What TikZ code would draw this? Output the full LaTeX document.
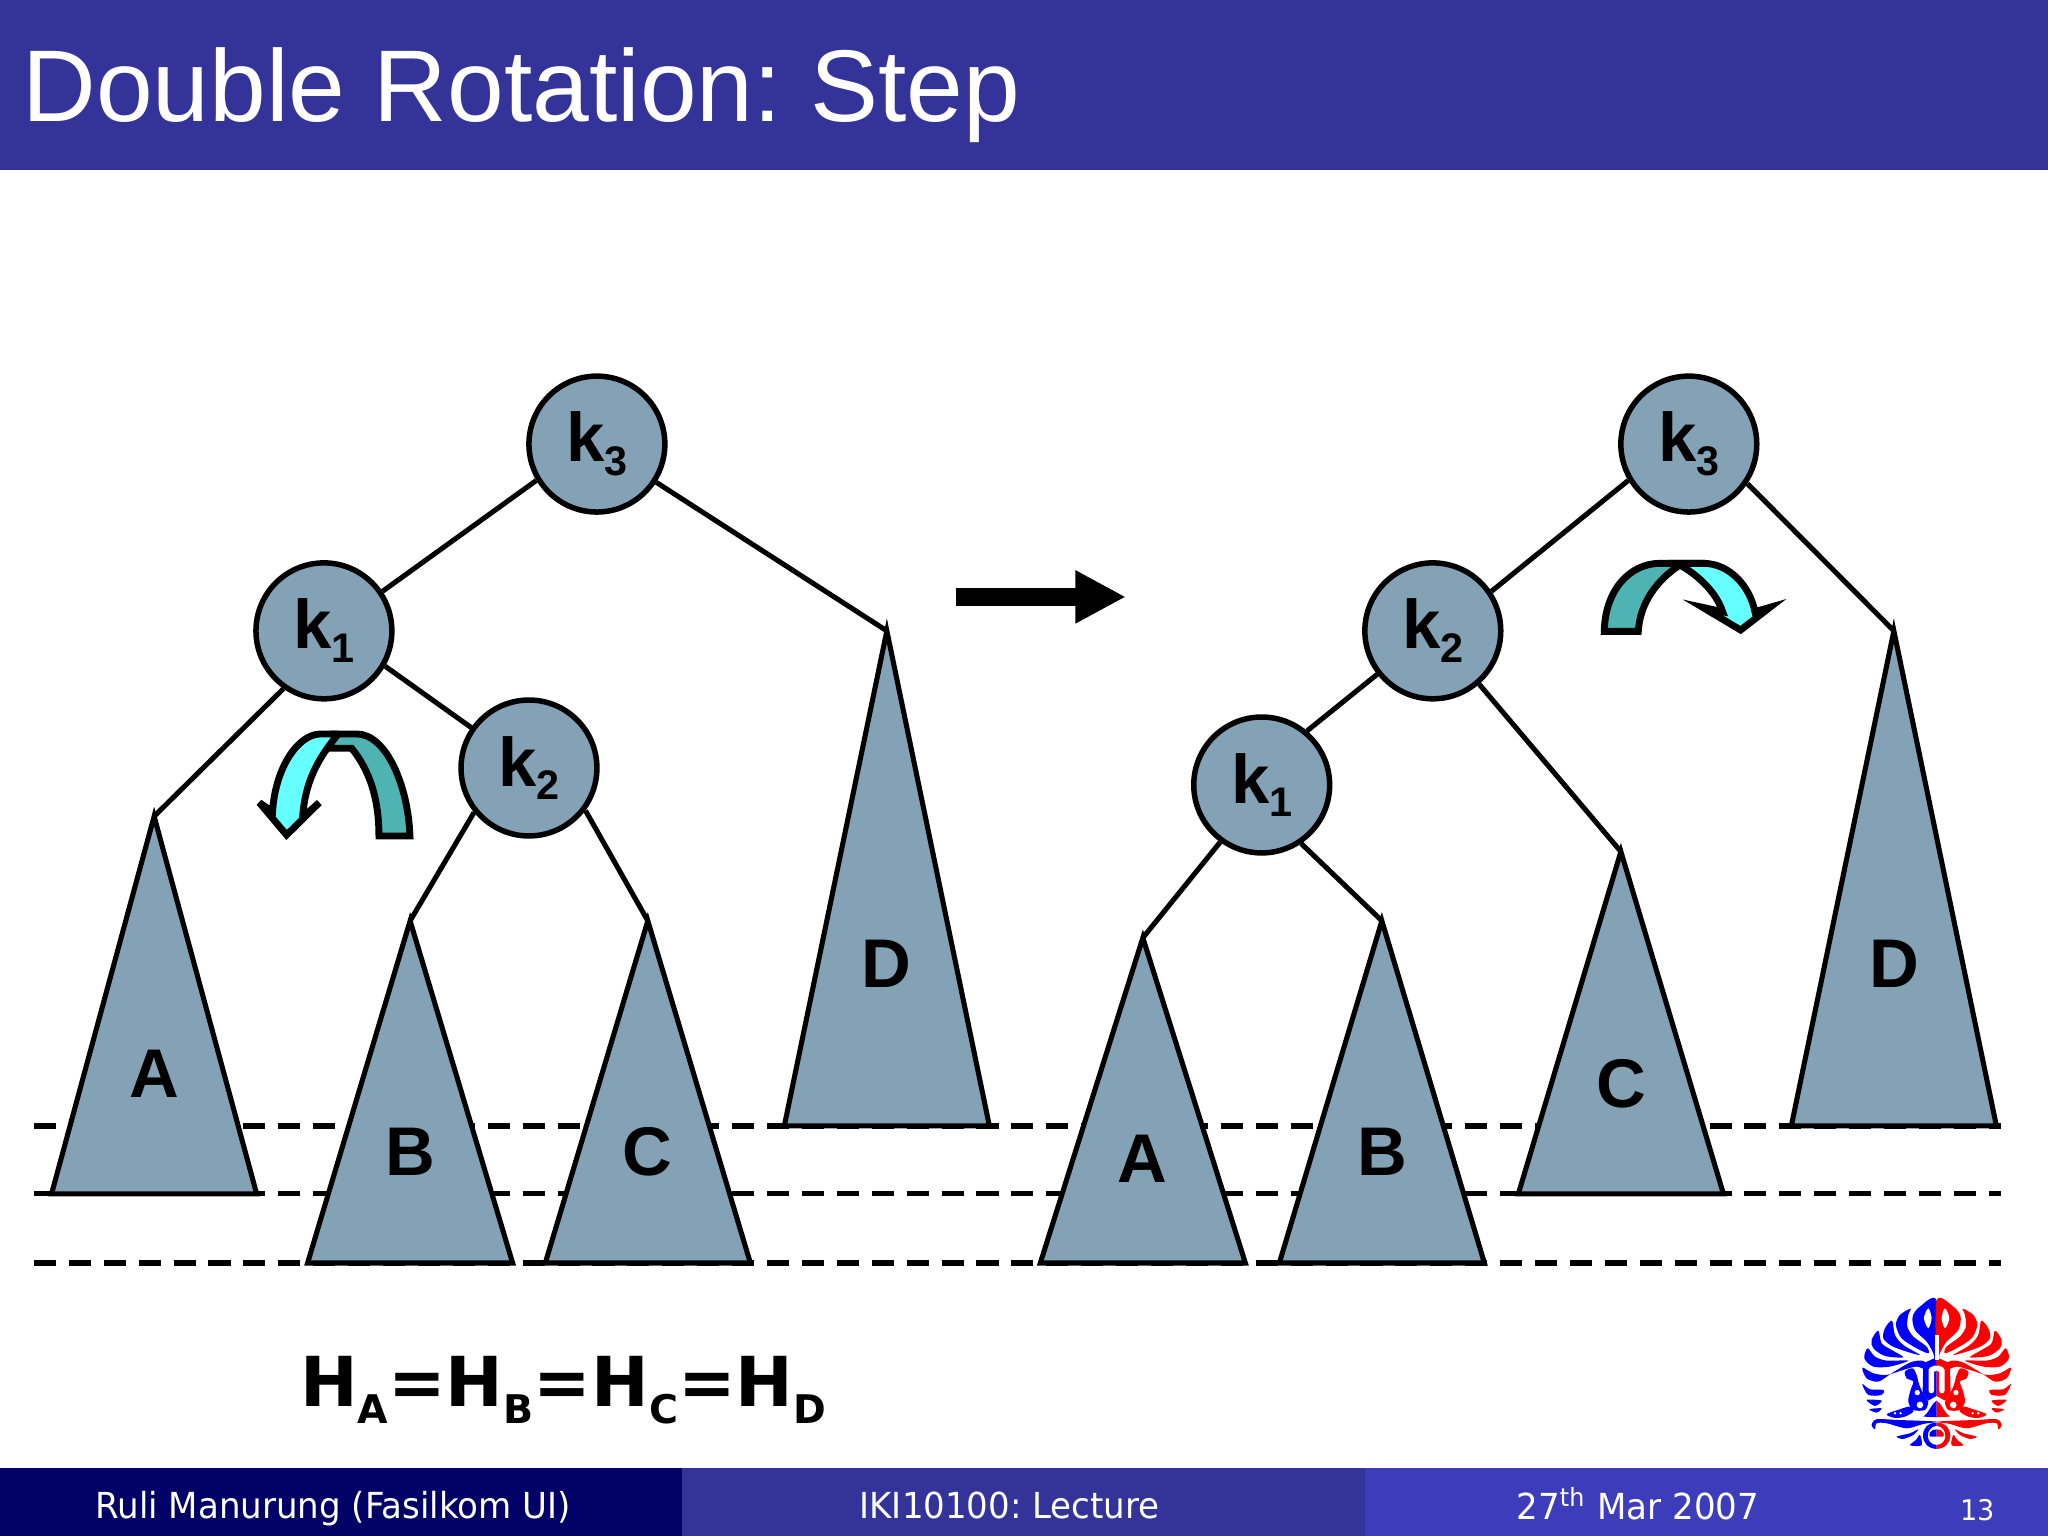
\documentclass[tikz,border=0pt]{standalone}
\usepackage{fontspec}
\usepackage{xcolor}
\usepackage{tikz}
\usetikzlibrary{arrows.meta,positioning}
\setmainfont{Liberation Sans}
\newfontfamily\footfont[FakeStretch=0.95]{DejaVu Sans}
\newfontfamily\eqfont{DejaVu Sans}
\definecolor{slidebar}{HTML}{333399}
\definecolor{footdark}{HTML}{000066}
\definecolor{footlight}{HTML}{3D3DBB}
\definecolor{treefill}{HTML}{84A2B5}
\definecolor{rotlight}{HTML}{66FFFF}
\definecolor{rotdark}{HTML}{4DB3B3}
\newcommand{\keysub}[1]{\raisebox{-3pt}{\fontsize{9}{9}\selectfont #1}}
\newcommand{\hsub}[1]{\raisebox{-3.6pt}{\fontsize{8.6}{8.6}\selectfont #1}}

\begin{document}
\frenchspacing
\begin{tikzpicture}[
    x=0.01cm, y=-0.01cm,
    keynode/.style={draw, circle, fill=treefill, line width=1.2pt,
                    minimum size=1.04cm, inner sep=0pt,
                    font=\fontsize{15}{15}\selectfont\bfseries},
    subtree/.style={draw, fill=treefill, line width=1.1pt, line join=miter},
    sublabel/.style={font=\fontsize{15}{15}\selectfont\bfseries},
    edge/.style={line width=1.1pt},
    level/.style={line width=1.15pt, dash pattern=on 4.8pt off 2.8pt},
    bigarrow/.style={line width=4pt, -{Triangle[length=11pt,width=10.8pt]}},
    rotband/.style={draw, line width=1.5pt, line join=miter},
    footbar/.style={fill=#1, draw=none},
    foottext/.style={text=white, font=\footfont\fontsize{7.8}{9}\selectfont},
    logoleaf/.style={fill=#1, draw=none}
  ]
  \useasboundingbox (0,0) rectangle (1568,1176);
  \fill[white] (0,0) rectangle (1568,1176);

  % header and footer
  \fill[slidebar] (0,0) rectangle (1568,130);
  \node[anchor=base west, inner sep=0pt, text=white,
        font=\fontsize{22.2}{22}\selectfont] (title) at (16.5,93) {Double Rotation: Step};
  \fill[footbar=footdark] (0,1124) rectangle (522,1176);
  \fill[footbar=slidebar] (522,1124) rectangle (1045,1176);
  \fill[footbar=footlight] (1045,1124) rectangle (1568,1176);
  \node[foottext] (author) at (255,1155) {Ruli Manurung (Fasilkom UI)};
  \node[foottext] (course) at (773,1153) {IKI10100: Lecture};
  \node[foottext] (date) at (1254,1151) {27\textsuperscript{th} Mar 2007};
  \node[foottext, font=\footfont\fontsize{6.2}{7}\selectfont] (page) at (1514,1156) {13};

  % height levels
  \foreach \ylev in {862,914,967} {
    \coordinate (levL\ylev) at (26,\ylev);
    \coordinate (levR\ylev) at (1532,\ylev);
    \draw[level] (levL\ylev) -- (levR\ylev);
  }

  % subtrees
  \foreach \name/\xtop/\ytop/\ybot/\lab/\ylab in {
      la/118/625/914/A/822, lb/314/705/967/B/882, lc/496/705/967/C/882, ld/679/483/862/D/738,
      ra/875/718/967/A/887, rb/1058/705/967/B/882, rc/1241/652/914/C/830, rd/1450/483/862/D/738} {
    \coordinate (\name) at (\xtop,\ytop);
    \draw[subtree] (\name) -- (\xtop-78.5,\ybot) -- (\xtop+78.5,\ybot) -- cycle;
    \node[sublabel] (label\name) at (\xtop,\ylab) {\lab};
  }

  % left tree
  \node[keynode] (lk3) at (457,340) {k\keysub{3}};
  \node[keynode] (lk1) at (248,483) {k\keysub{1}};
  \node[keynode] (lk2) at (405,588) {k\keysub{2}};
  \draw[edge] (lk3.211) -- (lk1.34);
  \draw[edge] (lk3) -- (ld);
  \draw[edge] (lk1.235) -- (la);
  \draw[edge] (lk1.330) -- (lk2.145);
  \draw[edge] (lk2.219) -- (lb);
  \draw[edge] (lk2.323) -- (lc);

  % right tree
  \node[keynode] (rk3) at (1293,340) {k\keysub{3}};
  \node[keynode] (rk2) at (1097,483) {k\keysub{2}};
  \node[keynode] (rk1) at (966,601) {k\keysub{1}};
  \draw[edge] (rk3.211) -- (rk2.34);
  \draw[edge] (rk3.326) -- (rd);
  \draw[edge] (rk2.218) -- (rk1.50);
  \draw[edge] (rk2.311) -- (rc);
  \draw[edge] (rk1.234) -- (ra);
  \draw[edge] (rk1.304) -- (rb);

  % step arrow
  \coordinate (stepfrom) at (732,457);
  \coordinate (stepto) at (862,457);
  \draw[bigarrow] (stepfrom) -- (stepto);

  % rotation on the left
  \begin{scope}[shift={(168.4,520.6)}, scale=0.2552]
    \draw[rotband, fill=rotdark] (477,468) -- (570,468) .. controls (565,320) and (500,162) .. (410,162)
      -- (340,162) -- (330,205) -- (395,205) .. controls (440,260) and (477,340) .. (477,468) -- cycle;
    \draw[rotband, fill=rotlight, miter limit=4] (355,162) -- (300,162) .. controls (230,165) and (165,270) .. (158,395)
      -- (118,368) -- (200,465) -- (298,368) -- (248,412) .. controls (255,310) and (290,240) .. (355,162);
  \end{scope}

  % rotation on the right
  \begin{scope}[shift={(1202,405.8)}, scale=0.2552]
    \draw[rotband, fill=rotdark] (103,304) -- (205,304) .. controls (210,220) and (260,150) .. (330,105)
      -- (345,100) -- (270,100) .. controls (180,100) and (105,180) .. (103,304) -- cycle;
    \draw[rotband, fill=rotlight, miter limit=10] (325,100) -- (400,100) .. controls (480,100) and (540,170) .. (555,245)
      -- (600,232) -- (512,300) -- (398,232) -- (458,245) .. controls (440,190) and (390,140) .. (335,108) -- cycle;
  \end{scope}

  % height equation
  \node[anchor=base west, inner sep=0pt, font=\eqfont\bfseries\fontsize{15}{15}\selectfont] (heights) at (229,1077)
    {H\hsub{A}=H\hsub{B}=H\hsub{C}=H\hsub{D}};

  % logo
  \begin{scope}[shift={(1393.4,972.3)}, scale=0.2552]
    \foreach \side/\hue in {1/blue, -1/red} {
      \begin{scope}[shift={(350,0)}, xscale=\side]
        \fill[logoleaf=\hue] plot[smooth cycle] coordinates {(0,92) (-50,110) (-72,140) (-65,180) (-30,215) (-10,250) (0,290)};
        \fill[white] plot[smooth cycle] coordinates {(-25,115) (-38,145) (-25,175) (-15,145)};
        \fill[logoleaf=\hue] plot[smooth cycle] coordinates {(-78,116) (-110,135) (-122,165) (-105,205) (-60,235) (-25,250) (-30,230) (-70,200) (-88,170) (-85,135)};
        \fill[logoleaf=\hue] plot[smooth cycle] coordinates {(-134,152) (-155,175) (-160,205) (-135,228) (-90,245) (-50,255) (-100,225) (-125,195)};
        \fill[logoleaf=\hue] plot[smooth cycle] coordinates {(-175,182) (-195,210) (-190,235) (-155,258) (-100,262) (-135,240) (-165,220)};
        \fill[logoleaf=\hue] plot[smooth cycle] coordinates {(-207,235) (-217,265) (-190,290) (-140,290) (-85,272) (-150,272) (-185,260)};
        \fill[logoleaf=\hue] plot[smooth cycle] coordinates {(-223,293) (-210,325) (-175,335) (-135,310) (-80,278) (-45,272) (-25,285) (-30,300) (-60,290) (-100,300) (-150,315) (-190,310)};
        \fill[logoleaf=\hue] plot[smooth cycle] coordinates {(-223,342) (-205,375) (-165,375) (-160,360) (-200,358)};
        \fill[logoleaf=\hue] plot[smooth cycle] coordinates {(-210,390) (-185,408) (-165,392)};
        \fill[logoleaf=\hue] plot[smooth cycle] coordinates {(-202,418) (-180,428) (-165,415)};
        % neck and face
        \fill[logoleaf=\hue] (0,262) -- (-40,280) -- (-42,370) -- (-25,392) -- (0,378) -- cycle;
        \draw[white, line width=1.2pt, line cap=round, line join=round] (-16,362) -- (-16,300) -- (-4,295);
        \fill[logoleaf=\hue] plot[smooth cycle] coordinates {(-95,305) (-72,295) (-60,315) (-52,345) (-38,375) (-25,395) (-35,420) (-70,420) (-85,395) (-78,360) (-70,335) (-90,325)};
        \fill[white] (-58,368) circle (8);
        \fill[white] (-50,405) circle (10);
        % wave and wing
        \fill[logoleaf=\hue] (0,392) .. controls (-15,400) and (-20,425) .. (-40,440) -- (0,442) -- cycle;
        \fill[logoleaf=\hue] plot[smooth cycle] coordinates {(-150,433) (-110,418) (-80,410) (-70,425) (-95,440) (-125,444)};
        \fill[white] (-125,430) circle (4);
        \fill[white] (-108,430) circle (4);
        % base
        \fill[logoleaf=\hue] plot[smooth cycle] coordinates {(-195,465) (-180,448) (-120,450) (0,455) (-40,462) (-90,475) (-150,460) (-180,460) (-185,478)};
        \fill[logoleaf=\hue] plot[smooth cycle] coordinates {(-120,500) (-80,490) (-55,478) (-70,495) (-100,507)};
        \fill[logoleaf=\hue] plot[smooth cycle] coordinates {(-80,526) (-45,526) (-50,495) (-62,510)};
        \fill[logoleaf=\hue] (0,458) .. controls (-55,458) and (-55,535) .. (0,537) -- (0,525) .. controls (-35,525) and (-35,470) .. (0,468) -- cycle;
        \fill[logoleaf=\hue] (0,478) .. controls (-20,478) and (-25,495) .. (-20,500) -- (0,500) -- cycle;
      \end{scope}
    }
    \fill[white] (344,195) rectangle (356,270);
  \end{scope}
\end{tikzpicture}
\end{document}
